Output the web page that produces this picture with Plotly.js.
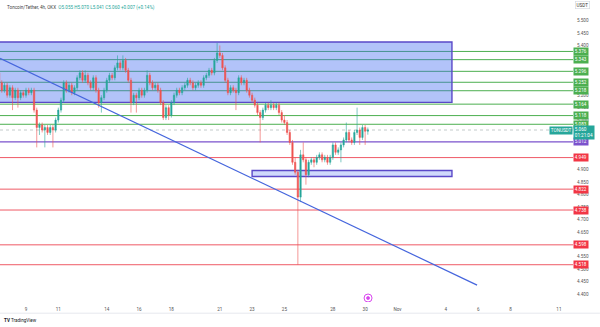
<!DOCTYPE html>
<html>
<head>
<meta charset="utf-8">
<script src="https://cdn.plot.ly/plotly-3.0.1.min.js"></script>
<style>html,body{margin:0;padding:0;background:#fff;}#chart{width:600px;height:327px;}</style>
</head>
<body>
<div id="chart"></div>
<script>
// ---- data (TON/USDT 4h, OKX) ----
const firstCandle = '2024-10-07T08:00:00Z';
const open = [5.29,5.25,5.22,5.24,5.20,5.23,5.19,5.22,5.19,5.21,5.20,5.22,5.21,5.22,5.14,5.07,5.08,5.06,5.07,5.05,
5.07,5.06,5.10,5.14,5.18,5.25,5.22,5.24,5.21,5.23,5.27,5.29,5.26,5.28,5.25,5.23,5.27,5.22,5.17,5.19,
5.22,5.26,5.28,5.27,5.31,5.33,5.31,5.34,5.30,5.26,5.17,5.20,5.19,5.22,5.20,5.22,5.28,5.25,5.23,5.24,
5.22,5.17,5.11,5.15,5.12,5.17,5.20,5.22,5.21,5.23,5.24,5.26,5.25,5.23,5.24,5.25,5.24,5.27,5.28,5.30,
5.29,5.34,5.37,5.36,5.31,5.26,5.21,5.23,5.22,5.21,5.27,5.25,5.26,5.22,5.20,5.18,5.16,5.13,5.11,5.14,
5.16,5.15,5.16,5.15,5.16,5.13,5.10,5.09,5.05,5.01,4.93,4.89,4.79,4.96,4.94,4.88,4.93,4.94,4.93,4.95,
4.96,4.94,4.95,4.93,4.95,5.00,4.97,4.98,5.00,5.02,5.05,5.02,5.01,5.05,5.06,5.03,5.07,5.055];
const high = [5.31,5.26,5.25,5.25,5.24,5.24,5.23,5.23,5.22,5.22,5.23,5.23,5.23,5.23,5.15,5.09,5.09,5.08,5.08,5.08,
5.08,5.11,5.15,5.19,5.26,5.26,5.25,5.25,5.24,5.28,5.30,5.30,5.30,5.29,5.26,5.28,5.28,5.23,5.20,5.23,
5.27,5.29,5.29,5.32,5.36,5.34,5.36,5.35,5.31,5.27,5.21,5.21,5.23,5.23,5.23,5.30,5.29,5.26,5.25,5.25,
5.23,5.18,5.16,5.16,5.18,5.21,5.23,5.23,5.24,5.25,5.27,5.27,5.26,5.25,5.26,5.26,5.28,5.29,5.31,5.31,
5.35,5.41,5.40,5.37,5.32,5.27,5.24,5.24,5.23,5.28,5.28,5.27,5.27,5.23,5.21,5.19,5.17,5.14,5.15,5.17,
5.17,5.18,5.17,5.17,5.17,5.14,5.12,5.10,5.06,5.02,4.95,4.90,4.98,5.01,4.95,4.94,4.95,4.95,4.96,4.97,
4.97,4.96,4.96,4.96,5.01,5.01,4.99,5.01,5.03,5.09,5.06,5.03,5.06,5.15,5.07,5.08,5.08,5.070];
const low = [5.24,5.21,5.21,5.19,5.19,5.14,5.18,5.15,5.18,5.19,5.19,5.20,5.20,5.13,4.99,5.04,5.05,4.99,5.04,5.04,
4.99,5.05,5.09,5.13,5.17,5.21,5.21,5.20,5.20,5.22,5.26,5.25,5.25,5.24,5.22,5.22,5.21,5.15,5.13,5.18,
5.21,5.25,5.26,5.26,5.30,5.30,5.30,5.29,5.25,5.13,5.16,5.13,5.18,5.19,5.19,5.21,5.24,5.22,5.22,5.21,
5.16,5.10,5.10,5.10,5.11,5.16,5.19,5.20,5.20,5.22,5.23,5.24,5.22,5.22,5.23,5.23,5.23,5.26,5.27,5.28,
5.28,5.33,5.35,5.30,5.25,5.20,5.20,5.21,5.14,5.20,5.24,5.24,5.21,5.19,5.17,5.15,5.12,5.01,5.10,5.13,
5.14,5.14,5.14,5.14,5.12,5.09,5.08,5.04,5.00,4.92,4.88,4.518,4.77,4.93,4.84,4.87,4.92,4.91,4.92,4.94,
4.93,4.93,4.92,4.92,4.94,4.96,4.96,4.93,4.99,5.01,5.01,5.00,5.00,5.04,5.00,5.02,5.00,5.041];
const close = [5.25,5.22,5.24,5.20,5.23,5.19,5.22,5.19,5.21,5.20,5.22,5.21,5.22,5.14,5.07,5.08,5.06,5.07,5.05,5.07,
5.06,5.10,5.14,5.18,5.25,5.22,5.24,5.21,5.23,5.27,5.29,5.26,5.28,5.25,5.23,5.27,5.22,5.17,5.19,5.22,
5.26,5.28,5.27,5.31,5.33,5.31,5.34,5.30,5.26,5.17,5.20,5.19,5.22,5.20,5.22,5.28,5.25,5.23,5.24,5.22,
5.17,5.11,5.15,5.12,5.17,5.20,5.22,5.21,5.23,5.24,5.26,5.25,5.23,5.24,5.25,5.24,5.27,5.28,5.30,5.29,
5.34,5.37,5.36,5.31,5.26,5.21,5.23,5.22,5.21,5.27,5.25,5.26,5.22,5.20,5.18,5.16,5.13,5.11,5.14,5.16,
5.15,5.16,5.15,5.16,5.13,5.10,5.09,5.05,5.01,4.93,4.89,4.79,4.96,4.94,4.88,4.93,4.94,4.93,4.95,4.96,
4.94,4.95,4.93,4.95,5.00,4.97,4.98,5.00,5.02,5.05,5.02,5.01,5.05,5.06,5.03,5.07,5.055,5.060];

const greenLevels = [5.376, 5.343, 5.296, 5.252, 5.218, 5.164, 5.118, 5.083];
const redLevels = [4.949, 4.822, 4.738, 4.598, 4.518];
const purpleLevel = 5.012;
const lastPrice = 5.060;
const countdown = '01:21:04';

const priceTicks = [5.500, 5.450, 5.400, 5.200, 5.150, 5.100, 4.900, 4.850, 4.800, 4.750, 4.700, 4.650, 4.550, 4.500, 4.450, 4.400];

const zoneBig = {x0: '2024-10-01 00:00', x1: '2024-11-04 09:00', y0: 5.171, y1: 5.414};
const zoneSmall = {x0: '2024-10-23 00:00', x1: '2024-11-04 09:00', y0: 4.873, y1: 4.897};
const trend = {x0: '2024-10-07 09:22', y0: 5.348, x1: '2024-11-05 22:20', y1: 4.436};

const tickDates = ['2024-10-09','2024-10-11','2024-10-14','2024-10-16','2024-10-18','2024-10-21','2024-10-23','2024-10-25','2024-10-28','2024-10-30','2024-11-01','2024-11-04','2024-11-06','2024-11-08','2024-11-11'];
const tickLabels = ['9','11','14','16','18','21','23','25','28','30','Nov','4','6','8','11'];

// time stamps of the 4h candles
const t0 = Date.parse(firstCandle);
const times = close.map((_, i) => new Date(t0 + i * 4 * 3600 * 1000).toISOString().slice(0, 16).replace('T', ' '));

const UP = '#26a69a', DOWN = '#ef5350', GREEN = '#4caf50', RED = '#ef5a66', PURPLE = '#7b52cc';
const FONT = 'Roboto, "Liberation Sans", sans-serif';
const FS = 4.6;

const trace = {
  type: 'candlestick', x: times, open: open, high: high, low: low, close: close,
  increasing: {line: {color: UP, width: 0.6}, fillcolor: UP},
  decreasing: {line: {color: DOWN, width: 0.6}, fillcolor: DOWN},
  whiskerwidth: 0, showlegend: false, hoverinfo: 'skip'
};

const shapes = [];
greenLevels.forEach(v => shapes.push({type: 'line', xref: 'paper', x0: 0, x1: 1, yref: 'y', y0: v, y1: v, line: {color: GREEN, width: 1}, layer: 'below'}));
redLevels.forEach(v => shapes.push({type: 'line', xref: 'paper', x0: 0, x1: 1, yref: 'y', y0: v, y1: v, line: {color: RED, width: 1}, layer: 'below'}));
shapes.push({type: 'line', xref: 'paper', x0: 0, x1: 1, yref: 'y', y0: purpleLevel, y1: purpleLevel, line: {color: PURPLE, width: 1.2}, layer: 'below'});
shapes.push({type: 'line', xref: 'paper', x0: 0, x1: 1, yref: 'y', y0: lastPrice, y1: lastPrice, line: {color: '#a9b6b4', width: 0.7, dash: 'dot'}, layer: 'below'});
shapes.push({type: 'rect', xref: 'x', yref: 'y', x0: zoneBig.x0, x1: zoneBig.x1, y0: zoneBig.y0, y1: zoneBig.y1,
  fillcolor: 'rgba(62,104,240,0.4)', line: {color: '#5a48c8', width: 1.4}, layer: 'below'});
shapes.push({type: 'rect', xref: 'x', yref: 'y', x0: zoneSmall.x0, x1: zoneSmall.x1, y0: zoneSmall.y0, y1: zoneSmall.y1,
  fillcolor: 'rgba(62,104,240,0.25)', line: {color: '#5a48c8', width: 1.4}, layer: 'below'});
shapes.push({type: 'line', xref: 'x', yref: 'y', x0: trend.x0, y0: trend.y0, x1: trend.x1, y1: trend.y1, line: {color: '#4565dd', width: 1.2}, layer: 'above'});
// event marker near time axis
shapes.push({type: 'circle', xref: 'x', yref: 'y', xsizemode: 'pixel', ysizemode: 'pixel', xanchor: '2024-10-30 04:20', yanchor: 4.384,
  x0: -4, x1: 4, y0: -4, y1: 4, line: {color: '#d946ef', width: 1}, fillcolor: '#fff', layer: 'above'});
shapes.push({type: 'circle', xref: 'x', yref: 'y', xsizemode: 'pixel', ysizemode: 'pixel', xanchor: '2024-10-30 04:20', yanchor: 4.384,
  x0: -1.5, x1: 1.5, y0: -1.5, y1: 1.5, line: {color: '#d946ef', width: 0.8}, fillcolor: '#d946ef', layer: 'above'});
// bottom border line of the widget
shapes.push({type: 'line', xref: 'paper', yref: 'paper', x0: 0, x1: 1.047, y0: -0.037, y1: -0.037, line: {color: '#e6e8ee', width: 1}});

const annotations = [];
function tag(v, color) {
  annotations.push({xref: 'paper', x: 1, xanchor: 'left', yref: 'y', y: v, yanchor: 'middle', text: v.toFixed(3),
    showarrow: false, bgcolor: color, borderpad: 0.8, font: {family: FONT, size: FS, color: '#fff'}});
}
greenLevels.forEach(v => tag(v, GREEN));
redLevels.forEach(v => tag(v, '#f23645'));
tag(purpleLevel, PURPLE);
annotations.push({xref: 'paper', x: 1, xanchor: 'left', yref: 'y', y: lastPrice, yanchor: 'middle', yshift: -2.5,
  text: lastPrice.toFixed(3) + '<br>' + countdown, showarrow: false, bgcolor: UP, borderpad: 0.8, align: 'left',
  font: {family: FONT, size: FS, color: '#fff'}});
annotations.push({xref: 'paper', x: 1, xanchor: 'right', yref: 'y', y: lastPrice, yanchor: 'middle',
  text: 'TONUSDT', showarrow: false, bgcolor: UP, borderpad: 0.8, font: {family: FONT, size: FS, color: '#fff'}});
annotations.push({xref: 'paper', x: 1, xanchor: 'left', xshift: 2, yref: 'paper', y: 1, yanchor: 'top', yshift: -1,
  text: 'USDT', showarrow: false, bgcolor: '#fff', bordercolor: '#d1d4dc', borderwidth: 0.6, borderpad: 1,
  font: {family: FONT, size: FS, color: '#333'}});
annotations.push({xref: 'paper', x: 0, xanchor: 'left', xshift: 5, yref: 'paper', y: 1, yanchor: 'top', yshift: -2,
  text: '<span style="color:#444">Toncoin/Tether, 4h, OKX</span>  <span style="color:' + UP + '">O5.055 H5.070 L5.041 C5.060 +0.007 (+0.14%)</span>',
  showarrow: false, font: {family: FONT, size: FS}});
annotations.push({xref: 'paper', x: 0, xanchor: 'left', xshift: 2, yref: 'paper', y: -0.06, yanchor: 'middle',
  text: '<b>TV</b> TradingView', showarrow: false, font: {family: FONT, size: FS, color: '#131722'}});

const layout = {
  width: 600, height: 327,
  margin: {l: 0, r: 27, t: 0, b: 25, pad: 0},
  paper_bgcolor: '#fff', plot_bgcolor: '#fff',
  showlegend: false,
  xaxis: {type: 'date', range: ['2024-10-07 09:22', '2024-11-11 20:53'], rangeslider: {visible: false},
    tickmode: 'array', tickvals: tickDates, ticktext: tickLabels, showgrid: false, zeroline: false, showline: false,
    ticks: '', ticklabelstandoff: 3, tickfont: {family: FONT, size: FS, color: '#555'}, fixedrange: true},
  yaxis: {side: 'right', range: [4.368, 5.583], tickmode: 'array', tickvals: priceTicks, tickformat: '.3f', showgrid: false,
    zeroline: false, showline: false, ticks: '', ticklabelstandoff: 3, tickfont: {family: FONT, size: FS, color: '#555'}, fixedrange: true},
  shapes: shapes, annotations: annotations
};

Plotly.newPlot('chart', [trace], layout, {staticPlot: true, displayModeBar: false});
</script>
</body>
</html>
